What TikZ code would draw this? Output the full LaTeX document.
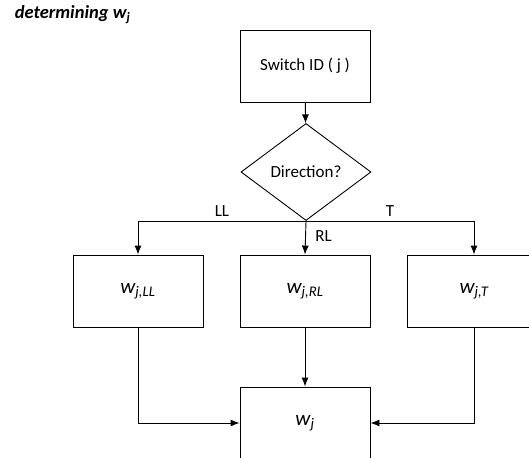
\documentclass[tikz,border=0pt]{standalone}
\usepackage{fontspec}
\setmainfont{Carlito}
\usepackage{tikz}
\usetikzlibrary{arrows.meta,shapes.geometric}
\usetikzlibrary{positioning}

\begin{document}
\begin{tikzpicture}[x=1pt,y=-1pt,->,>={Latex[length=9pt,width=7pt]},line width=0.9pt,
  every node/.style={font=\fontsize{17}{20}\selectfont}]
	\tikzstyle{blk}=[draw, rectangle, minimum width=130pt, minimum height=72pt, inner sep=0pt]
	\tikzstyle{wval}=[blk, font=\fontsize{21}{24}\selectfont\itshape]
	\tikzstyle{dec}=[draw, diamond, minimum width=130pt, minimum height=97pt, inner sep=0pt]
	\useasboundingbox (0,0) rectangle (529,457);
	\clip (0,0) rectangle (529,457);
		\node[anchor=west, font=\fontsize{18.5}{21}\selectfont\bfseries\itshape] (title) at (11,15) {determining w\textsubscript{j}};
		\node[blk]  (sw) at (305,66) {Switch ID ( j )};
		\node[dec]  (dir) at (306,172) {Direction?};
		\node[wval]  (ll) at (138,291) {w\textsubscript{j,LL}};
		\node[wval]  (rl) at (305,291) {w\textsubscript{j,RL}};
		\node[wval, minimum width=134pt]  (t) at (474,291) {w\textsubscript{j,T}};
		\node[wval]  (wj) at (305,423) {w\textsubscript{j}};

		\draw (sw) -- (dir);
		\draw (dir.south) -| node[pos=0.25, above=1pt] {LL} (ll.north);
		\draw (dir.south) -- node[right=6pt, pos=0.45] {RL} (rl.north);
		\draw (dir.south) -| node[pos=0.25, above=1pt] {T} (t.north);
		\draw (rl) -- (wj);
		\draw (ll.south) |- (wj.west);
		\draw (t.south) |- (wj.east);
\end{tikzpicture}
\end{document}
